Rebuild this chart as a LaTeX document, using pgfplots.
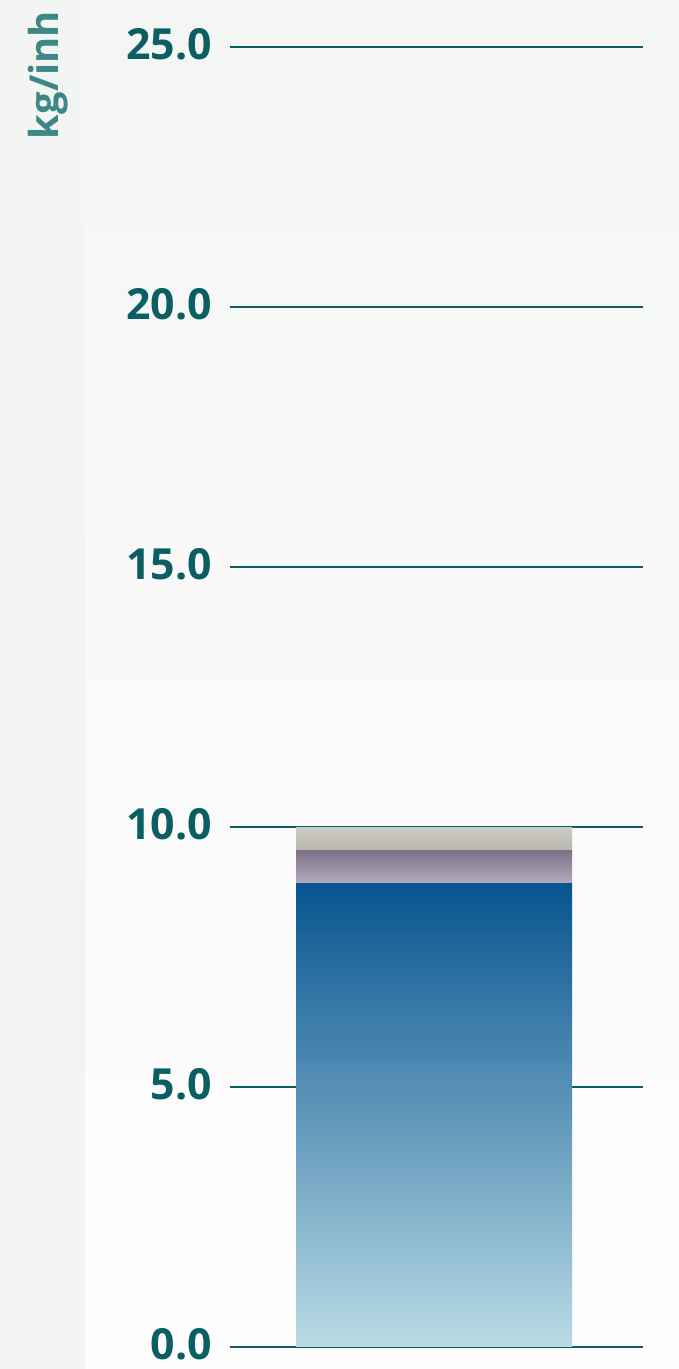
\documentclass[border=0pt]{standalone}
\usepackage{pgfplots}
\pgfplotsset{compat=1.18}
\usepackage{fontspec}
\setmainfont{Open Sans}
\usetikzlibrary{backgrounds,calc}
\definecolor{tealdark}{HTML}{0B5E62}
\definecolor{teallab}{HTML}{3D8787}
\definecolor{blueTop}{HTML}{07548F}
\definecolor{blueBot}{HTML}{B9DBE5}
\definecolor{purTop}{HTML}{7E7289}
\definecolor{purBot}{HTML}{B2AABB}
\definecolor{grTop}{HTML}{CDCCC5}
\definecolor{grBot}{HTML}{B9B7AE}
\definecolor{bgleft}{HTML}{F3F5F2}
\definecolor{bgtop}{HTML}{F4F6F4}
\definecolor{bgbot}{HTML}{FDFDFD}
\begin{document}
\begin{tikzpicture}
\begin{axis}[
    scale only axis,
    width=413bp, height=1300bp,
    xmin=0, xmax=1, ymin=0, ymax=25,
    ybar stacked, bar width=276bp,
    xtick=\empty,
    ytick={0,5,10,15,20,25},
    yticklabels={0.0,5.0,10.0,15.0,20.0,25.0},
    yticklabel style={font=\fontsize{43}{48}\selectfont\bfseries, text=tealdark,
        anchor=east, inner sep=0pt, xshift=-18bp, yshift=3bp},
    major tick length=0pt,
    axis line style={draw=none},
    ymajorgrids,
    grid style={line width=2.8bp, tealdark},
    clip=false,
]
\addplot[draw=none, top color=blueTop, bottom color=blueBot] coordinates {(0.494,8.92)};
\addplot[draw=none, top color=purTop, bottom color=purBot] coordinates {(0.494,0.63)};
\addplot[draw=none, top color=grTop, bottom color=grBot] coordinates {(0.494,0.45)};
\end{axis}
\node[rotate=90, text=teallab, font=\fontsize{40}{46}\selectfont\bfseries]
    at ($(current axis.south west)+(-182bp,1272bp)$) {kg/inh};
\begin{scope}[on background layer]
\fill[bgleft] ($(current axis.south west)+(-230bp,-22bp)$) rectangle ($(current axis.south west)+(449bp,1347bp)$);
\shade[top color=bgtop, bottom color=bgbot] ($(current axis.south west)+(-145bp,-22bp)$) rectangle ($(current axis.south west)+(449bp,1347bp)$);
\end{scope}
\end{tikzpicture}
\end{document}
